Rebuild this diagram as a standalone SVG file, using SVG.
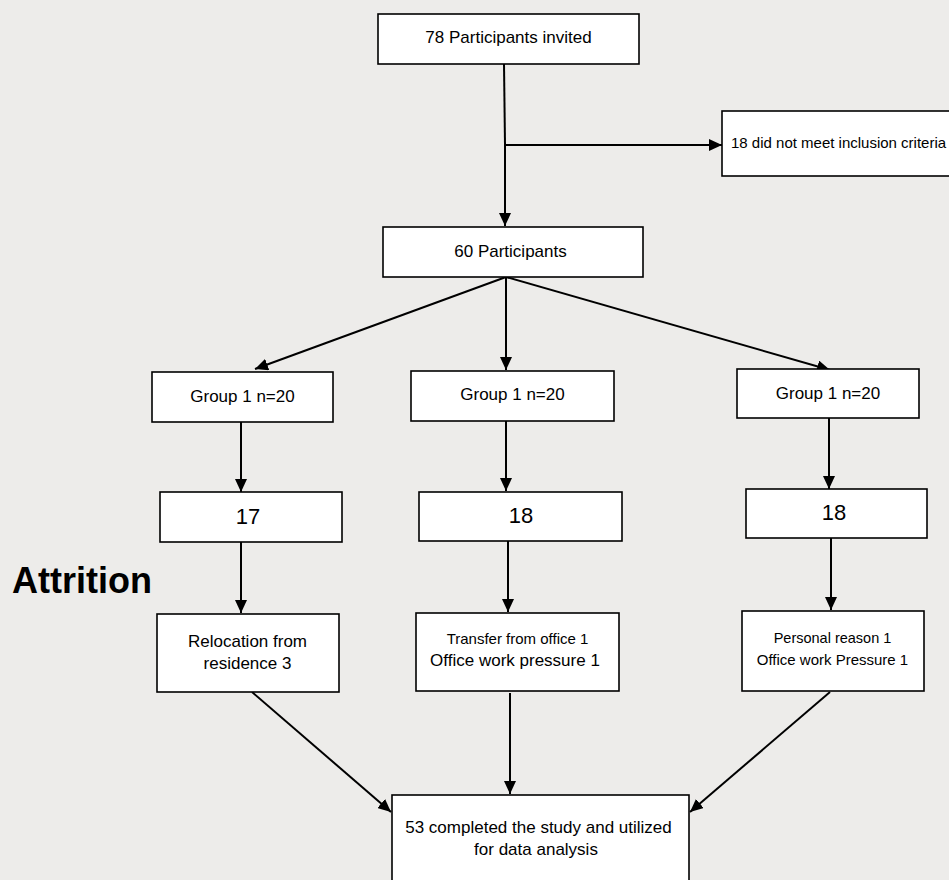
<svg xmlns="http://www.w3.org/2000/svg" width="949" height="880" viewBox="0 0 949 880">
<defs>
<marker id="ah" markerUnits="userSpaceOnUse" markerWidth="14" markerHeight="12" refX="13" refY="6" orient="auto">
<path d="M0,0 L13,6 L0,12 z" fill="#000"/>
</marker>
<style>
.box{fill:#fff;stroke:#000;stroke-width:1.6}
.t{font-family:"Liberation Sans",Arial,sans-serif;fill:#000;text-anchor:middle}
.c{fill:none;stroke:#000;stroke-width:2}
.a{fill:none;stroke:#000;stroke-width:2;marker-end:url(#ah)}
</style>
</defs>
<rect x="0" y="0" width="949" height="880" fill="#edecea"/>
<g id="connectors">
<path class="c" d="M504,64 L505,145"/>
<path class="a" d="M505,145 L505,226"/>
<path class="a" d="M505,145 L722,145"/>
<path class="a" d="M506,277 L255,369"/>
<path class="a" d="M506,277 L506,370"/>
<path class="a" d="M506,277 L830,370"/>
<path class="a" d="M241,422 L241,492"/>
<path class="a" d="M506,421 L506,491"/>
<path class="a" d="M829,418 L829,489"/>
<path class="a" d="M241,542 L241,613"/>
<path class="a" d="M508,539 L508,612"/>
<path class="a" d="M831,537 L831,610"/>
<path class="a" d="M252,692 L391,812"/>
<path class="a" d="M510,693 L510,794"/>
<path class="a" d="M830,692 L690,812"/>
</g>
<g id="invited">
<rect class="box" x="378" y="14" width="261" height="50"/>
<text class="t" x="508.5" y="43" font-size="17">78 Participants invited</text>
</g>
<g id="excluded">
<rect class="box" x="722" y="111" width="230" height="65"/>
<text class="t" x="731" y="148" font-size="15" style="text-anchor:start">18 did not meet inclusion criteria</text>
</g>
<g id="participants">
<rect class="box" x="383" y="227" width="260" height="50"/>
<text class="t" x="510.5" y="257" font-size="17">60 Participants</text>
</g>
<g id="group-left">
<rect class="box" x="152" y="372" width="181" height="50"/>
<text class="t" x="242.5" y="402" font-size="17">Group 1 n=20</text>
</g>
<g id="group-mid">
<rect class="box" x="411" y="371" width="203" height="50"/>
<text class="t" x="512.5" y="400" font-size="17">Group 1 n=20</text>
</g>
<g id="group-right">
<rect class="box" x="737" y="369" width="182" height="49"/>
<text class="t" x="828" y="399" font-size="17">Group 1 n=20</text>
</g>
<g id="n-left">
<rect class="box" x="160" y="492" width="182" height="50"/>
<text class="t" x="248" y="524" font-size="22">17</text>
</g>
<g id="n-mid">
<rect class="box" x="419" y="492" width="203" height="49"/>
<text class="t" x="521" y="523" font-size="22">18</text>
</g>
<g id="n-right">
<rect class="box" x="746" y="489" width="181" height="49"/>
<text class="t" x="834" y="520" font-size="22">18</text>
</g>
<g id="attrition-label">
<text x="12" y="593" font-family="Liberation Sans, Arial, sans-serif" font-weight="bold" font-size="36" fill="#000">Attrition</text>
</g>
<g id="reason-left">
<rect class="box" x="157" y="614" width="182" height="78"/>
<text class="t" x="247.5" y="647" font-size="17">Relocation from</text>
<text class="t" x="247.5" y="669" font-size="17">residence 3</text>
</g>
<g id="reason-mid">
<rect class="box" x="416" y="613" width="203" height="78"/>
<text class="t" x="517.5" y="644" font-size="15">Transfer from office 1</text>
<text class="t" x="515" y="666" font-size="17">Office work pressure 1</text>
</g>
<g id="reason-right">
<rect class="box" x="742" y="611" width="182" height="80"/>
<text class="t" x="832.5" y="643" font-size="14.5">Personal reason 1</text>
<text class="t" x="832.5" y="665" font-size="15">Office work Pressure 1</text>
</g>
<g id="completed">
<rect class="box" x="392" y="795" width="297" height="90"/>
<text class="t" x="538.5" y="833" font-size="17">53 completed the study and utilized</text>
<text class="t" x="536" y="855" font-size="17">for data analysis</text>
</g>
</svg>
